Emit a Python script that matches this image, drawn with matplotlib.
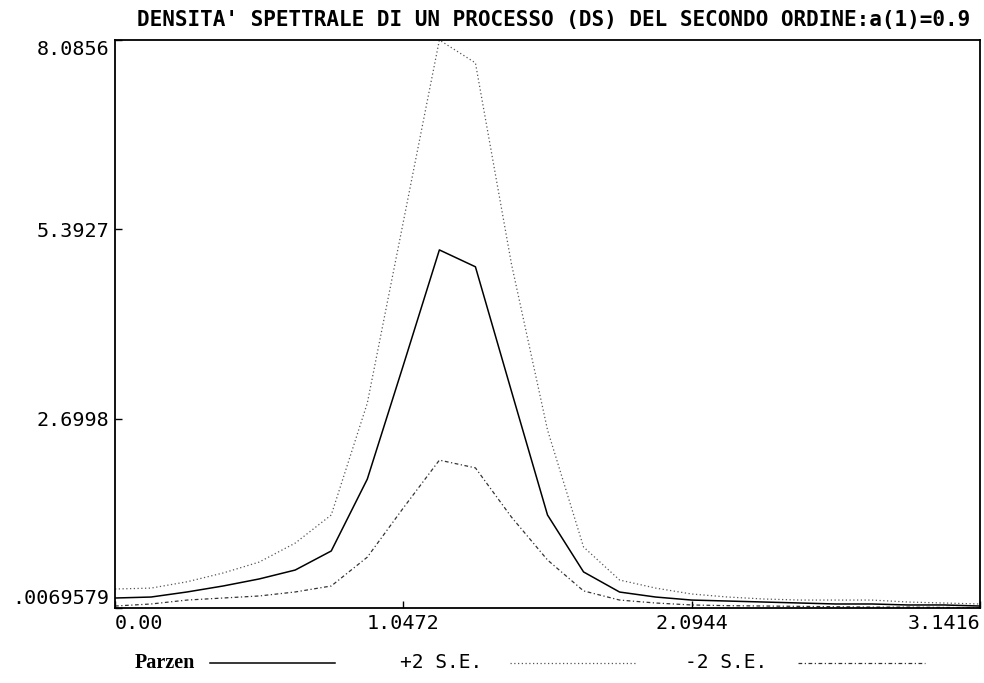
import numpy as np
import matplotlib
matplotlib.use("Agg")
import matplotlib.pyplot as plt
from matplotlib.lines import Line2D

# frequency grid 0..pi (25 ordinates, step pi/24)
freq = np.linspace(0, np.pi, 25)

parzen = [0.149, 0.163, 0.235, 0.32, 0.42, 0.547, 0.818, 1.84, 3.46, 5.10,
          4.86, 3.09, 1.33, 0.52, 0.234, 0.163, 0.12, 0.106, 0.092, 0.078,
          0.064, 0.064, 0.05, 0.05, 0.035]
plus2 = [0.277, 0.29, 0.38, 0.505, 0.66, 0.93, 1.33, 2.92, 5.5, 8.0856,
         7.76, 4.9, 2.54, 0.875, 0.405, 0.29, 0.206, 0.163, 0.135, 0.12,
         0.12, 0.12, 0.092, 0.078, 0.064]
minus2 = [0.035, 0.064, 0.12, 0.149, 0.178, 0.235, 0.32, 0.73, 1.43, 2.11,
          2.0, 1.30, 0.69, 0.25, 0.12, 0.078, 0.05, 0.04, 0.035, 0.03,
          0.025, 0.02, 0.02, 0.015, 0.01]

yticks = [0.0069579, 2.6998, 5.3927, 8.0856]
ytick_labels = [".0069579", "2.6998", "5.3927", "8.0856"]
xticks = [0.0, 1.0472, 2.0944, 3.1416]
xtick_labels = ["0.00", "1.0472", "2.0944", "3.1416"]

title = "DENSITA' SPETTRALE DI UN PROCESSO (DS) DEL SECONDO ORDINE:a(1)=0.9"
legend_names = ["Parzen", "+2 S.E.", "-2 S.E."]

mono = "DejaVu Sans Mono"
fig = plt.figure(figsize=(9.84, 6.83), dpi=100, facecolor="white")
ax = fig.add_axes([115/984, 1-608/683, 865/984, 568/683])

ax.plot(freq, parzen, color="black", lw=1.1, ls="-")
ax.plot(freq, plus2, color="#555555", lw=0.9, ls=(0, (1, 2)))
ax.plot(freq, minus2, color="#333333", lw=0.9, ls=(0, (3, 2, 1, 2)))

ax.set_xlim(0, np.pi)
ax.set_ylim(yticks[0], yticks[-1])
for s in ax.spines.values():
    s.set_linewidth(1.3)

ax.set_yticks(yticks)
ax.set_yticklabels(ytick_labels, fontfamily=mono, fontsize=14.5)
ax.set_xticks(xticks)
ax.set_xticklabels(xtick_labels, fontfamily=mono, fontsize=14.5)
ax.tick_params(axis="both", direction="in", length=5, width=1, pad=4)
ylab = ax.get_yticklabels()
ylab[0].set_va("bottom")
ylab[-1].set_va("top")
xlab = ax.get_xticklabels()
xlab[0].set_ha("left")
xlab[-1].set_ha("right")

fig.text(554/984, 1-20/683, title, ha="center", va="center",
         fontfamily=mono, fontsize=15.1, fontweight="bold")

# legend row at the bottom
leg_y = 1 - 663/683
text_x = [135, 400, 685]
line_x = [(210, 335), (510, 635), (798, 925)]
styles = [dict(color="black", lw=1.1, ls="-"),
          dict(color="#555555", lw=0.9, ls=(0, (1, 2))),
          dict(color="#333333", lw=0.9, ls=(0, (3, 2, 1, 2)))]
for name, tx, (x0, x1), st in zip(legend_names, text_x, line_x, styles):
    if name == "Parzen":
        fig.text(tx/984, leg_y, name, ha="left", va="center",
                 fontfamily=["Liberation Serif", "DejaVu Serif"],
                 fontsize=14.5, fontweight="bold")
    else:
        fig.text(tx/984, leg_y, name, ha="left", va="center",
                 fontfamily=mono, fontsize=14)
    fig.add_artist(Line2D([x0/984, x1/984], [leg_y, leg_y],
                          transform=fig.transFigure, **st))

fig.savefig("out.png", dpi=100, facecolor="white")
